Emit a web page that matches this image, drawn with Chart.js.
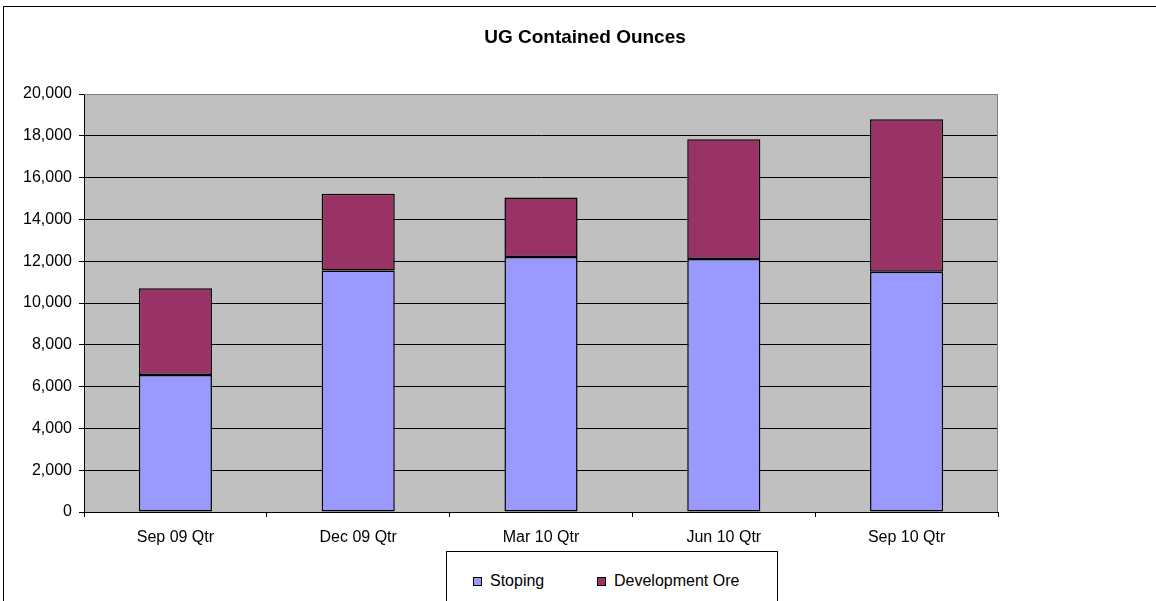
<!DOCTYPE html>
<html lang="en">
<head>
  <meta charset="UTF-8" />
  <title>UG Contained Ounces</title>
  <script src="https://cdn.jsdelivr.net/npm/chart.js"></script>
  <style>
    html, body { margin: 0; padding: 0; background: #fff; }
    body { width: 1156px; height: 601px; position: relative; overflow: hidden; font-family: "Liberation Sans", Arial, sans-serif; }
    .frame { position: absolute; left: 3px; top: 6px; width: 1160px; height: 600px; border-left: 1px solid #000; border-top: 1px solid #000; }
    .wrap { position: absolute; left: 0; top: 0; width: 1156px; height: 601px; }
    .legend { position: absolute; left: 446px; top: 551px; width: 330px; height: 60px; border: 1px solid #000; background: #fff; }
    .legend-item { position: absolute; top: 19px; font-size: 16px; color: #000; line-height: 20px; }
    .legend-item .sw { position: absolute; left: 0; top: 6px; width: 7px; height: 7px; border: 1px solid #000; }
    .legend-item span.lbl { padding-left: 17px; }
  </style>
</head>
<body>
  <div class="frame"></div>
  <div class="wrap"><canvas id="ugChart" width="1156" height="601"></canvas></div>
  <div class="legend">
    <div class="legend-item" style="left: 26px;"><div class="sw" style="background:#9999FF"></div><span class="lbl">Stoping</span></div>
    <div class="legend-item" style="left: 150px;"><div class="sw" style="background:#993366"></div><span class="lbl">Development Ore</span></div>
  </div>

  <script>
    const quarters = ['Sep 09 Qtr', 'Dec 09 Qtr', 'Mar 10 Qtr', 'Jun 10 Qtr', 'Sep 10 Qtr'];
    const stoping = [6550, 11550, 12200, 12100, 11490];
    const developmentOre = [4150, 3680, 2850, 5730, 7300];
    const yTicks = [0, 2000, 4000, 6000, 8000, 10000, 12000, 14000, 16000, 18000, 20000];

    const fontFamily = '"Liberation Sans", Arial, sans-serif';

    // grey plot background + grey top/right frame, Excel style
    const plotArea = {
      id: 'plotArea',
      beforeDraw(chart) {
        const { ctx, chartArea: a } = chart;
        ctx.save();
        ctx.fillStyle = '#C0C0C0';
        ctx.fillRect(a.left, a.top, a.right - a.left, a.bottom - a.top);
        ctx.restore();
      },
      afterDatasetsDraw(chart) {
        const { ctx, chartArea: a } = chart;
        ctx.save();
        ctx.strokeStyle = '#808080';
        ctx.lineWidth = 1;
        ctx.beginPath();
        ctx.moveTo(a.left, a.top + 0.5);
        ctx.lineTo(a.right - 0.5, a.top + 0.5);
        ctx.lineTo(a.right - 0.5, a.bottom);
        ctx.stroke();
        ctx.restore();
      },
      afterDraw(chart) {
        const { ctx } = chart;
        ctx.save();
        ctx.fillStyle = '#000';
        ctx.font = 'bold 19px ' + fontFamily;
        ctx.textAlign = 'center';
        ctx.textBaseline = 'middle';
        ctx.fillText('UG Contained Ounces', 585, 38);
        ctx.restore();
      }
    };

    new Chart(document.getElementById('ugChart'), {
      type: 'bar',
      data: {
        labels: quarters,
        datasets: [
          {
            label: 'Stoping',
            data: stoping,
            backgroundColor: '#9999FF',
            borderColor: '#000',
            borderWidth: 1.5,
            borderSkipped: false,
            barPercentage: 0.4,
            categoryPercentage: 1
          },
          {
            label: 'Development Ore',
            data: developmentOre,
            backgroundColor: '#993366',
            borderColor: '#000',
            borderWidth: 1.5,
            borderSkipped: false,
            barPercentage: 0.4,
            categoryPercentage: 1
          }
        ]
      },
      options: {
        responsive: false,
        animation: false,
        layout: { padding: { left: 0, top: 94, right: 158, bottom: 0 } },
        plugins: {
          legend: { display: false },
          title: { display: false },
          tooltip: { enabled: false }
        },
        scales: {
          x: {
            stacked: true,
            offset: true,
            afterFit(scale) { scale.height = 89; },
            grid: {
              offset: true,
              drawOnChartArea: false,
              drawTicks: true,
              tickLength: 5,
              color: '#000'
            },
            border: { display: true, color: '#000', width: 1 },
            ticks: {
              color: '#000',
              padding: 11,
              maxRotation: 0,
              font: { family: fontFamily, size: 16 }
            }
          },
          y: {
            stacked: true,
            min: 0,
            max: 20000,
            afterFit(scale) { scale.width = 84; },
            afterBuildTicks(scale) { scale.ticks = yTicks.map(v => ({ value: v })); },
            grid: {
              color: ctx => (ctx.tick && ctx.tick.value === 20000) ? '#808080' : '#000',
              tickColor: '#000',
              tickLength: 5,
              lineWidth: 1
            },
            border: { display: true, color: '#000', width: 1 },
            ticks: {
              color: '#000',
              padding: 7,
              font: { family: fontFamily, size: 16 },
              callback: v => v.toLocaleString('en-US')
            }
          }
        }
      },
      plugins: [plotArea]
    });
  </script>
</body>
</html>
